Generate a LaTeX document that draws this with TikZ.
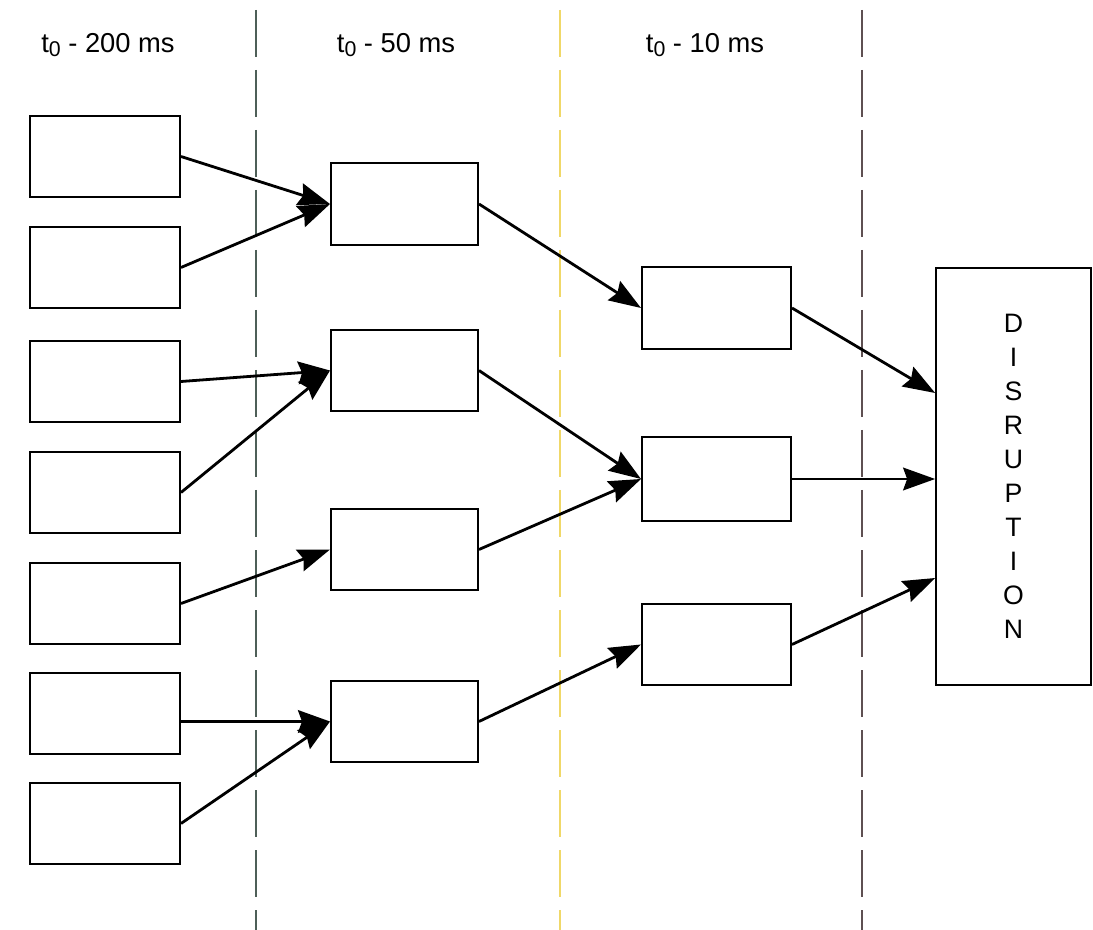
\documentclass[tikz,border=0pt]{standalone}
\usepackage{fontspec}
\setmainfont{Liberation Sans}
\usetikzlibrary{arrows.meta,calc}
\definecolor{lineA}{HTML}{4E5F58}
\definecolor{lineB}{HTML}{F0D868}
\definecolor{lineC}{HTML}{5E5052}
\newcommand{\tsub}{t\raisebox{-0.3ex}{\fontsize{16}{16}\selectfont 0}}
\begin{document}
\begin{tikzpicture}[x=0.75pt,y=-0.75pt,
  box/.style={draw=black,line width=1.5pt,inner sep=0pt,minimum height=61pt},
  lbox/.style={box,minimum width=112.5pt},
  mbox/.style={box,minimum width=110.25pt},
  tbox/.style={box,minimum width=111.75pt},
  conn/.style={draw=black,line width=2.1pt,-{Stealth[length=24pt,width=17pt,inset=3pt]}},
  sep/.style={line width=1.3pt,dash pattern=on 35pt off 10pt},
  head/.style={font=\fontsize{20.5}{24}\selectfont,inner sep=0pt}]
\useasboundingbox (0,0) rectangle (1093,930);
% separators
\draw[sep,lineA] (256,10) -- (256,930);
\draw[sep,lineB] (560,10) -- (560,930);
\draw[sep,lineC] (862,10) -- (862,930);
% headers
\node[head] (h1) at (108,45) {\tsub{} - 200 ms};
\node[head] (h2) at (396,45) {\tsub{} - 50 ms};
\node[head] (h3) at (705,45) {\tsub{} - 10 ms};
% left boxes
\node[lbox] (L1) at (105,156.5) {};
\node[lbox] (L2) at (105,267.5) {};
\node[lbox] (L3) at (105,381.5) {};
\node[lbox] (L4) at (105,492.5) {};
\node[lbox] (L5) at (105,603.5) {};
\node[lbox] (L6) at (105,713.5) {};
\node[lbox] (L7) at (105,823.5) {};
% middle boxes
\node[mbox] (M1) at (404.5,204) {};
\node[mbox] (M2) at (404.5,370.5) {};
\node[mbox] (M3) at (404.5,549.5) {};
\node[mbox] (M4) at (404.5,721.5) {};
% third boxes
\node[tbox] (T1) at (716.5,308) {};
\node[tbox,minimum height=63pt] (T2) at (716.5,479) {};
\node[tbox] (T3) at (716.5,644.5) {};
% disruption
\node[box,minimum width=116pt,minimum height=312.75pt,align=center,
  font=\fontsize{20}{25.5}\selectfont] (D) at (1013.5,476.5)
  {D\\I\\S\\R\\U\\P\\T\\I\\O\\N};
% connectors
\draw[conn] (L1.east) -- (M1.west);
\draw[conn] (L2.east) -- (M1.west);
\draw[conn] (L3.east) -- (M2.west);
\draw[conn] (L4.east) -- (M2.west);
\draw[conn] (L5.east) -- (M3.west);
\draw[conn] (L6.east |- M4.west) -- (M4.west);
\draw[conn] (L7.east) -- (M4.west);
\draw[conn] (M1.east) -- (T1.west);
\draw[conn] (M2.east) -- (T2.west);
\draw[conn] (M3.east) -- (T2.west);
\draw[conn] (M4.east) -- (T3.west);
\draw[conn] (T1.east) -- ($(D.west)+(0,-83.5)$);
\draw[conn] (T2.east) -- (D.west |- T2.east);
\draw[conn] (T3.east) -- ($(D.west)+(0,101.5)$);
\end{tikzpicture}
\end{document}
